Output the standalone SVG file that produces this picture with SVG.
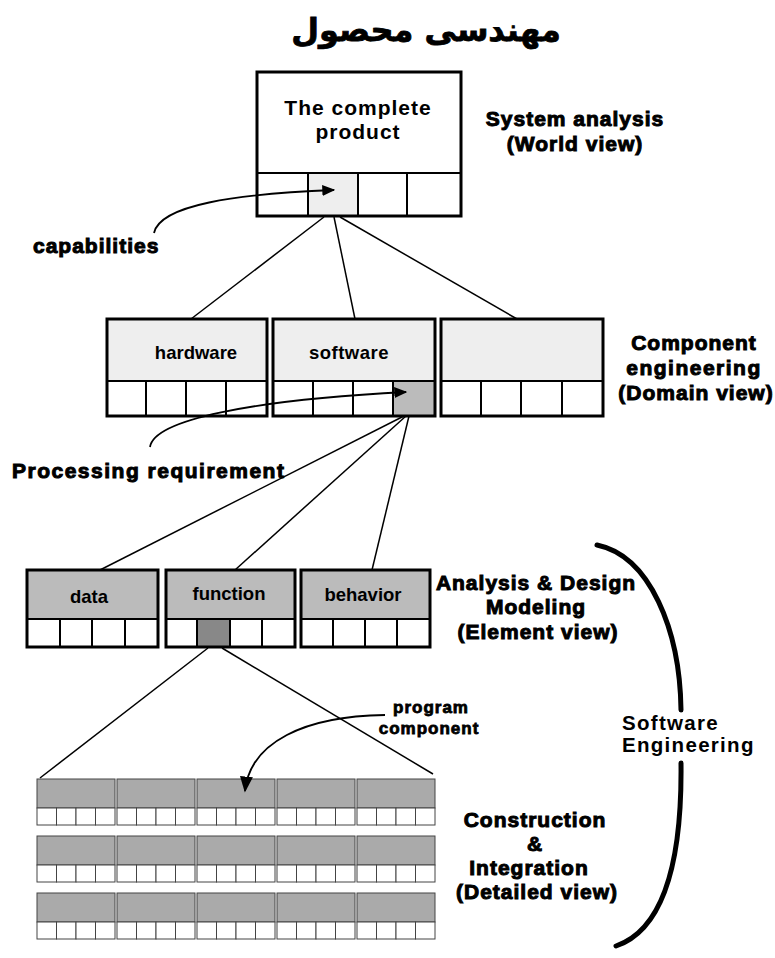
<svg xmlns="http://www.w3.org/2000/svg" width="775" height="958" viewBox="0 0 775 958">
  <defs>
    <marker id="arrow" viewBox="0 0 10 10" refX="9" refY="5" markerWidth="13" markerHeight="11" markerUnits="userSpaceOnUse" orient="auto" preserveAspectRatio="none">
      <path d="M0,0 L10,5 L0,10 z" fill="#000"/>
    </marker>
    <marker id="arrowBig" viewBox="0 0 10 10" refX="9" refY="5" markerWidth="16" markerHeight="13" markerUnits="userSpaceOnUse" orient="auto" preserveAspectRatio="none">
      <path d="M0,0 L10,5 L0,10 z" fill="#000"/>
    </marker>
    <style>
      .frame { fill: none; stroke: #000; stroke-width: 3; }
      .div { stroke: #000; stroke-width: 2; }
      .hdr-light { fill: #eeeeee; }
      .hdr-mid { fill: #bbbbbb; }
      .cell-light { fill: #eeeeee; }
      .cell-mid { fill: #bbbbbb; }
      .cell-dark { fill: #888888; }
      .unit-hdr { fill: #aaaaaa; stroke: #444; stroke-width: 1; }
      .unit-cell { fill: #fff; stroke: #444; stroke-width: 1; }
      .link { fill: none; stroke: #000; stroke-width: 1.5; }
      .callout { fill: none; stroke: #000; stroke-width: 1.8; }
      .brace { fill: none; stroke: #000; stroke-width: 5; stroke-linecap: round; }
      text { font-family: "Liberation Sans", Arial, sans-serif; font-weight: bold; fill: #000; }
      .box-label { font-size: 18.5px; }
      .heavy { font-size: 21px; letter-spacing: 1px; stroke: #000; stroke-width: 1; paint-order: stroke; }
      .small-heavy { font-size: 17px; letter-spacing: 1px; stroke: #000; stroke-width: 0.8; paint-order: stroke; }
      .mid { text-anchor: middle; }
      .title { font-family: "DejaVu Sans", sans-serif; font-size: 32px; stroke: #000; stroke-width: 0.8; paint-order: stroke; }
    </style>
  </defs>

  <!-- heading -->
  <text class="title mid" x="426" y="41" direction="rtl">مهندسی محصول</text>

  <!-- system level -->
  <g id="complete-product">
    <rect x="257" y="72" width="204" height="144" fill="#fff"/>
    <rect class="cell-light" x="308" y="173" width="50" height="42"/>
    <rect class="frame" x="257" y="72" width="204" height="144"/>
    <line class="div" x1="257" y1="173" x2="461" y2="173"/>
    <line class="div" x1="308" y1="173" x2="308" y2="215"/>
    <line class="div" x1="358" y1="173" x2="358" y2="215"/>
    <line class="div" x1="407" y1="173" x2="407" y2="215"/>
    <text class="mid" x="358" y="115" style="font-size:21px;letter-spacing:1px">The complete</text>
    <text class="mid" x="358" y="139" style="font-size:21px;letter-spacing:1px">product</text>
  </g>

  <!-- domain level -->
  <g id="hardware">
    <rect class="hdr-light" x="107" y="319" width="160" height="62"/>
    <rect fill="#fff" x="107" y="381" width="160" height="35"/>
    <rect class="frame" x="107" y="319" width="160" height="97"/>
    <line class="div" x1="107" y1="381" x2="267" y2="381"/>
    <line class="div" x1="146" y1="381" x2="146" y2="416"/>
    <line class="div" x1="186" y1="381" x2="186" y2="416"/>
    <line class="div" x1="226" y1="381" x2="226" y2="416"/>
    <text class="box-label mid" x="196" y="359">hardware</text>
  </g>
  <g id="software">
    <rect class="hdr-light" x="273" y="319" width="162" height="62"/>
    <rect fill="#fff" x="273" y="381" width="162" height="35"/>
    <rect class="cell-mid" x="393" y="381" width="42" height="35"/>
    <rect class="frame" x="273" y="319" width="162" height="97"/>
    <line class="div" x1="273" y1="381" x2="435" y2="381"/>
    <line class="div" x1="313" y1="381" x2="313" y2="416"/>
    <line class="div" x1="353" y1="381" x2="353" y2="416"/>
    <line class="div" x1="393" y1="381" x2="393" y2="416"/>
    <text class="box-label mid" x="349" y="359" style="letter-spacing:0.5px">software</text>
  </g>
  <g id="other-component">
    <rect class="hdr-light" x="441" y="319" width="162" height="62"/>
    <rect fill="#fff" x="441" y="381" width="162" height="35"/>
    <rect class="frame" x="441" y="319" width="162" height="97"/>
    <line class="div" x1="441" y1="381" x2="603" y2="381"/>
    <line class="div" x1="481" y1="381" x2="481" y2="416"/>
    <line class="div" x1="521" y1="381" x2="521" y2="416"/>
    <line class="div" x1="562" y1="381" x2="562" y2="416"/>
  </g>

  <!-- element level -->
  <g id="data">
    <rect class="hdr-mid" x="27" y="570" width="131" height="49"/>
    <rect fill="#fff" x="27" y="619" width="131" height="28"/>
    <rect class="frame" x="27" y="570" width="131" height="77"/>
    <line class="div" x1="27" y1="619" x2="158" y2="619"/>
    <line class="div" x1="60" y1="619" x2="60" y2="647"/>
    <line class="div" x1="92" y1="619" x2="92" y2="647"/>
    <line class="div" x1="125" y1="619" x2="125" y2="647"/>
    <text class="box-label mid" x="89" y="603">data</text>
  </g>
  <g id="function">
    <rect class="hdr-mid" x="166" y="570" width="129" height="49"/>
    <rect fill="#fff" x="166" y="619" width="129" height="28"/>
    <rect class="cell-dark" x="197" y="619" width="33" height="28"/>
    <rect class="frame" x="166" y="570" width="129" height="77"/>
    <line class="div" x1="166" y1="619" x2="295" y2="619"/>
    <line class="div" x1="197" y1="619" x2="197" y2="647"/>
    <line class="div" x1="230" y1="619" x2="230" y2="647"/>
    <line class="div" x1="262" y1="619" x2="262" y2="647"/>
    <text class="box-label mid" x="229" y="600">function</text>
  </g>
  <g id="behavior">
    <rect class="hdr-mid" x="301" y="570" width="129" height="49"/>
    <rect fill="#fff" x="301" y="619" width="129" height="28"/>
    <rect class="frame" x="301" y="570" width="129" height="77"/>
    <line class="div" x1="301" y1="619" x2="430" y2="619"/>
    <line class="div" x1="333" y1="619" x2="333" y2="647"/>
    <line class="div" x1="365" y1="619" x2="365" y2="647"/>
    <line class="div" x1="397" y1="619" x2="397" y2="647"/>
    <text class="box-label mid" x="363" y="601">behavior</text>
  </g>

  <!-- detailed level: 3 rows x 5 program units -->
  <g id="program-units">
    <defs>
      <g id="unit">
        <rect class="unit-hdr" x="0" y="0" width="78" height="29"/>
        <rect class="unit-cell" x="0" y="29" width="19.5" height="17"/>
        <rect class="unit-cell" x="19.5" y="29" width="19.5" height="17"/>
        <rect class="unit-cell" x="39" y="29" width="19.5" height="17"/>
        <rect class="unit-cell" x="58.5" y="29" width="19.5" height="17"/>
      </g>
    </defs>
    <use href="#unit" x="37" y="779"/>
    <use href="#unit" x="117" y="779"/>
    <use href="#unit" x="197" y="779"/>
    <use href="#unit" x="277" y="779"/>
    <use href="#unit" x="357" y="779"/>
    <use href="#unit" x="37" y="836"/>
    <use href="#unit" x="117" y="836"/>
    <use href="#unit" x="197" y="836"/>
    <use href="#unit" x="277" y="836"/>
    <use href="#unit" x="357" y="836"/>
    <use href="#unit" x="37" y="893"/>
    <use href="#unit" x="117" y="893"/>
    <use href="#unit" x="197" y="893"/>
    <use href="#unit" x="277" y="893"/>
    <use href="#unit" x="357" y="893"/>
  </g>

  <!-- connectors, drawn over the boxes -->
  <g id="connectors">
    <line class="link" x1="324" y1="217" x2="191" y2="319"/>
    <line class="link" x1="334" y1="217" x2="355" y2="319"/>
    <line class="link" x1="340" y1="217" x2="517" y2="319"/>
    <line class="link" x1="404" y1="416" x2="100" y2="570"/>
    <line class="link" x1="406" y1="416" x2="235" y2="570"/>
    <line class="link" x1="409" y1="416" x2="372" y2="570"/>
    <line class="link" x1="208" y1="648" x2="40" y2="778"/>
    <line class="link" x1="222" y1="648" x2="433" y2="774"/>
    <path class="callout" d="M154,233 C160,205 235,194 334,190" marker-end="url(#arrow)"/>
    <path class="callout" d="M150,447 C154,420 250,400 406,392" marker-end="url(#arrow)"/>
    <path class="callout" d="M385,715 C305,716 250,742 245,791" marker-end="url(#arrowBig)"/>
  </g>

  <!-- software engineering brace -->
  <g id="software-engineering">
    <path class="brace" d="M597,545 C650,556 680,630 681,710"/>
    <path class="brace" d="M681,763 C682,850 668,928 616,946"/>
    <text x="622" y="730" style="font-size:20.5px;letter-spacing:1.3px">Software</text>
    <text x="622" y="752" style="font-size:20.5px;letter-spacing:1.3px">Engineering</text>
  </g>

  <!-- side captions -->
  <g id="captions">
    <text class="heavy mid" x="575" y="126">System analysis</text>
    <text class="heavy mid" x="575" y="151">(World view)</text>
    <text class="heavy mid" x="694" y="350">Component</text>
    <text class="heavy mid" x="694" y="375" style="letter-spacing:1.5px">engineering</text>
    <text class="heavy mid" x="696" y="400">(Domain view)</text>
    <text class="heavy mid" x="536" y="590">Analysis &amp; Design</text>
    <text class="heavy mid" x="536" y="614">Modeling</text>
    <text class="heavy mid" x="538" y="639">(Element view)</text>
    <text class="heavy mid" x="535" y="827">Construction</text>
    <text class="heavy mid" x="535" y="851">&amp;</text>
    <text class="heavy mid" x="529" y="875">Integration</text>
    <text class="heavy mid" x="537" y="899">(Detailed view)</text>
    <text class="heavy" x="33" y="253">capabilities</text>
    <text class="heavy" x="12" y="478" style="letter-spacing:1.5px">Processing requirement</text>
    <text class="small-heavy mid" x="431" y="713">program</text>
    <text class="small-heavy mid" x="429" y="734">component</text>
  </g>
</svg>
